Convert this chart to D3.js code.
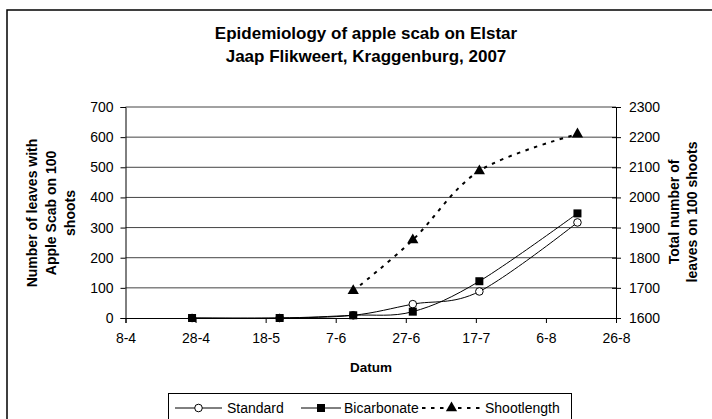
<!DOCTYPE html>
<html>
<head>
<meta charset="utf-8">
<script src="https://cdn.jsdelivr.net/npm/d3@7"></script>
<style>
  body { margin: 0; background: #fff; }
  svg { display: block; font-family: "Liberation Sans", Arial, sans-serif; }
</style>
</head>
<body>
<svg id="chart" width="712" height="419"></svg>
<script>
const titleLines = ["Epidemiology of apple scab on Elstar", "Jaap Flikweert, Kraggenburg, 2007"];
const dates = ["2007-04-27", "2007-05-22", "2007-06-12", "2007-06-29", "2007-07-18", "2007-08-15"];
const standard = [0, 0, 9, 46, 88, 317];
const bicarbonate = [0, 0, 9, 21, 122, 347];
const shootDates = ["2007-06-12", "2007-06-29", "2007-07-18", "2007-08-15"];
const shootlength = [1690, 1859, 2088, 2210];
const xTicks = ["2007-04-08", "2007-04-28", "2007-05-18", "2007-06-07", "2007-06-27", "2007-07-17", "2007-08-06", "2007-08-26"];
const leftTicks = [0, 100, 200, 300, 400, 500, 600, 700];
const rightTicks = [1600, 1700, 1800, 1900, 2000, 2100, 2200, 2300];

const parse = d3.timeParse("%Y-%m-%d");
const fmt = d3.timeFormat("%-d-%-m");

const margin = { top: 107, left: 125.5 };
const width = 490.5;
const height = 211;

const svg = d3.select("#chart");

// chart border (runs off the right and bottom edge)
svg.append("rect")
  .attr("x", 7).attr("y", 10)
  .attr("width", 740).attr("height", 440)
  .attr("fill", "none")
  .attr("stroke", "#000")
  .attr("stroke-width", 1.5);

svg.append("text")
  .attr("y", 39)
  .attr("text-anchor", "middle")
  .attr("font-size", 17).attr("font-weight", "bold")
  .selectAll("tspan")
  .data(titleLines)
  .enter().append("tspan")
  .attr("x", 366)
  .attr("dy", (d, i) => i ? 23 : 0)
  .text(d => d);

const g = svg.append("g")
  .attr("transform", `translate(${margin.left},${margin.top})`);

const x = d3.scaleTime()
  .domain([parse(xTicks[0]), parse(xTicks[xTicks.length - 1])])
  .range([0, width]);

const y = d3.scaleLinear().domain([0, 700]).range([height, 0]);
const y2 = d3.scaleLinear().domain([1600, 2300]).range([height, 0]);

// gridlines
g.selectAll(".grid")
  .data(leftTicks.slice(1))
  .enter().append("line")
  .attr("class", "grid")
  .attr("x1", 0).attr("x2", width)
  .attr("y1", d => y(d)).attr("y2", d => y(d))
  .attr("stroke", "#444")
  .attr("stroke-width", 1);

const leftAxis = g.append("g")
  .call(d3.axisLeft(y).tickValues(leftTicks).tickSize(5).tickPadding(7));

const rightAxis = g.append("g")
  .attr("transform", `translate(${width},0)`)
  .call(d3.axisRight(y2).tickValues(rightTicks).tickFormat(d3.format("d")).tickSize(5).tickPadding(8));
rightAxis.selectAll(".tick line").attr("x1", -4);

const bottomAxis = g.append("g")
  .attr("transform", `translate(0,${height})`)
  .call(d3.axisBottom(x).tickValues(xTicks.map(parse)).tickFormat(fmt).tickSize(5).tickPadding(10));

[leftAxis, rightAxis, bottomAxis].forEach(a => {
  a.select(".domain").attr("stroke", "#000");
  a.selectAll(".tick line").attr("stroke", "#000");
  a.selectAll("text")
    .attr("font-family", "Liberation Sans, Arial, sans-serif")
    .attr("font-size", 14)
    .attr("fill", "#000");
});

// axis titles
svg.append("text")
  .attr("transform", "translate(33,213) rotate(-90)")
  .attr("text-anchor", "middle")
  .attr("font-size", 14).attr("font-weight", "bold")
  .selectAll("tspan")
  .data(["Number of leaves with", "Apple Scab on 100", "shoots"])
  .enter().append("tspan")
  .attr("x", 0)
  .attr("dy", (d, i) => i ? 19 : 4)
  .text(d => d);

svg.append("text")
  .attr("transform", "translate(675,212) rotate(-90)")
  .attr("text-anchor", "middle")
  .attr("font-size", 14).attr("font-weight", "bold")
  .selectAll("tspan")
  .data(["Total number of", "leaves on 100 shoots"])
  .enter().append("tspan")
  .attr("x", 0)
  .attr("dy", (d, i) => i ? 18 : 4)
  .text(d => d);

svg.append("text")
  .attr("x", 371).attr("y", 372)
  .attr("text-anchor", "middle")
  .attr("font-size", 13.5).attr("font-weight", "bold")
  .text("Datum");

// series
const curve = d3.curveCatmullRom.alpha(0);

const stdData = dates.map((d, i) => [parse(d), standard[i]]);
const bicData = dates.map((d, i) => [parse(d), bicarbonate[i]]);
const shootData = shootDates.map((d, i) => [parse(d), shootlength[i]]);

g.append("path")
  .datum(stdData)
  .attr("fill", "none").attr("stroke", "#000").attr("stroke-width", 1)
  .attr("d", d3.line().x(d => x(d[0])).y(d => y(d[1])).curve(curve));

g.append("path")
  .datum(bicData)
  .attr("fill", "none").attr("stroke", "#000").attr("stroke-width", 1)
  .attr("d", d3.line().x(d => x(d[0])).y(d => y(d[1])).curve(curve));

g.append("path")
  .datum(shootData)
  .attr("fill", "none").attr("stroke", "#000").attr("stroke-width", 2)
  .attr("stroke-dasharray", "3.5,5.5")
  .attr("d", d3.line().x(d => x(d[0])).y(d => y2(d[1])).curve(curve));

g.selectAll(".std")
  .data(stdData)
  .enter().append("circle")
  .attr("class", "std")
  .attr("cx", d => x(d[0])).attr("cy", d => y(d[1]))
  .attr("r", 3.8)
  .attr("fill", "#fff").attr("stroke", "#000");

g.selectAll(".bic")
  .data(bicData)
  .enter().append("rect")
  .attr("class", "bic")
  .attr("x", d => x(d[0]) - 4).attr("y", d => y(d[1]) - 4)
  .attr("width", 8).attr("height", 8)
  .attr("fill", "#000");

const tri = d3.symbol().type(d3.symbolTriangle).size(55);
g.selectAll(".shoot")
  .data(shootData)
  .enter().append("path")
  .attr("class", "shoot")
  .attr("transform", d => `translate(${x(d[0])},${y2(d[1])})`)
  .attr("d", tri)
  .attr("fill", "#000");

// legend
const legend = svg.append("g");
legend.append("rect")
  .attr("x", 168.5).attr("y", 393.5)
  .attr("width", 403).attr("height", 40)
  .attr("fill", "#fff").attr("stroke", "#000");

const ly = 408;
const items = [
  { name: "Standard", x0: 175, x1: 222, tx: 227 },
  { name: "Bicarbonate", x0: 301, x1: 341, tx: 344 },
  { name: "Shootlength", x0: 422, x1: 481, tx: 485 }
];
items.forEach((it, i) => {
  const line = legend.append("line")
    .attr("x1", it.x0).attr("x2", it.x1)
    .attr("y1", ly).attr("y2", ly)
    .attr("stroke", "#000")
    .attr("stroke-width", i === 2 ? 2 : 1);
  if (i === 2) line.attr("stroke-dasharray", "3.5,5.5");
  const cx = (it.x0 + it.x1) / 2;
  if (i === 0) {
    legend.append("circle").attr("cx", cx).attr("cy", ly).attr("r", 3.8)
      .attr("fill", "#fff").attr("stroke", "#000");
  } else if (i === 1) {
    legend.append("rect").attr("x", cx - 4).attr("y", ly - 4)
      .attr("width", 8).attr("height", 8).attr("fill", "#000");
  } else {
    legend.append("path").attr("transform", `translate(${cx},${ly})`)
      .attr("d", tri).attr("fill", "#000");
  }
  legend.append("text")
    .attr("x", it.tx).attr("y", ly + 5)
    .attr("font-size", 14)
    .text(it.name);
});
</script>
</body>
</html>
